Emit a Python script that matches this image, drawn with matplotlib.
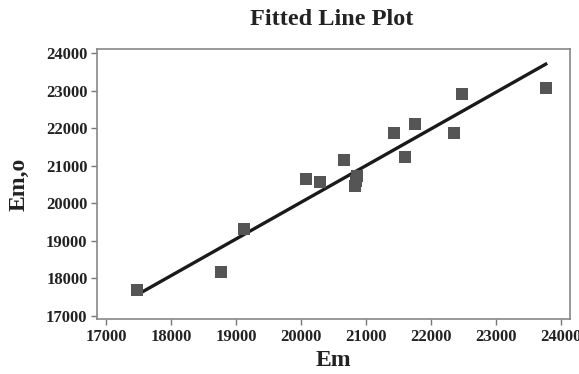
import matplotlib
matplotlib.use("Agg")
import matplotlib.pyplot as plt

em = [17477, 18770, 19120, 20080, 20290, 20660, 20870, 20850, 20830,
      21430, 21610, 21765, 22365, 22480, 23780]
em_o = [17685, 18165, 19310, 20645, 20565, 21150, 20725, 20600, 20470,
        21865, 21240, 22110, 21865, 22910, 23080]
fit_x = [17523, 23770]
fit_y = [17600, 23710]
xticks = [17000, 18000, 19000, 20000, 21000, 22000, 23000, 24000]
yticks = [17000, 18000, 19000, 20000, 21000, 22000, 23000, 24000]

plt.rcParams['font.family'] = ['Liberation Serif', 'DejaVu Serif']
plt.rcParams['font.weight'] = 'bold'

fig = plt.figure(figsize=(5.79, 3.74), dpi=100)
ax = fig.add_axes([0.168, 0.147, 0.8164, 0.721])

ax.plot(fit_x, fit_y, color='#1a1a1a', lw=2.4, zorder=2)
ax.scatter(em, em_o, marker='s', s=70, color='#555555', zorder=3, linewidths=0)

ax.set_xlim(16866, 24143)
ax.set_ylim(16912, 24104)
ax.set_xticks(xticks)
ax.set_yticks(yticks)
ax.set_xticklabels([str(v) for v in xticks], fontsize=12, fontweight='bold', color='#222222')
ax.set_yticklabels([str(v) for v in yticks], fontsize=12, fontweight='bold', color='#222222')
ax.tick_params(direction='out', length=4, width=1, color='#777777', pad=3)
for s in ax.spines.values():
    s.set_color('#888888')
    s.set_linewidth(1.2)

ax.set_xlabel('Em', fontsize=17, fontweight='bold', color='#222222', labelpad=4)
ax.set_ylabel('Em,o', fontsize=17, fontweight='bold', color='#222222', labelpad=12)
fig.text(0.572, 0.948, 'Fitted Line Plot', ha='center', va='center',
         fontsize=17.5, fontweight='bold', color='#222222')

fig.savefig('out.png', dpi=100)
